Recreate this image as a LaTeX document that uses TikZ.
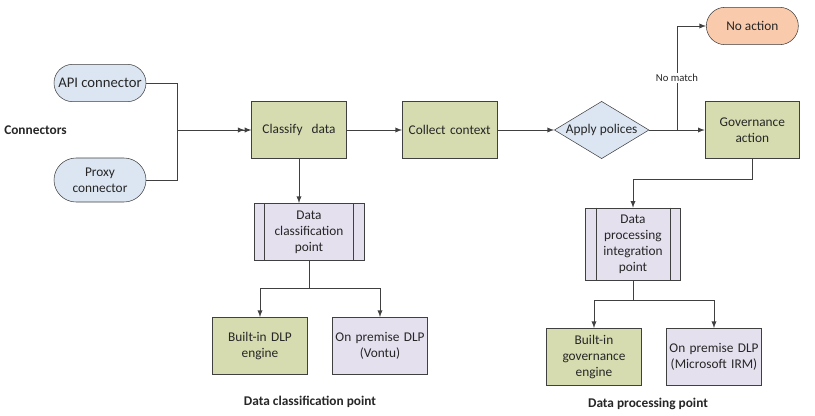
\documentclass[tikz,border=0pt]{standalone}
\usepackage{fontspec}
\setmainfont{Carlito}
\usetikzlibrary{shapes,arrows,positioning,calc}

\definecolor{boxgreen}{RGB}{214,220,176}
\definecolor{boxblue}{RGB}{219,230,242}
\definecolor{boxlilac}{RGB}{229,224,238}
\definecolor{boxpeach}{RGB}{249,203,172}
\definecolor{linegray}{RGB}{64,64,64}

\begin{document}
\begin{tikzpicture}[x=0.75pt, y=-0.75pt, >=latex, node distance=113pt,
        font=\fontsize{10}{12}\selectfont, text=black!85,
        stepbox/.style={draw=linegray, fill=boxgreen, minimum width=71pt, minimum height=43pt, text width=69pt, align=center, inner sep=1pt},
        procbox/.style={draw=linegray, fill=boxlilac, minimum width=71pt, minimum height=43pt, text width=69pt, align=center, inner sep=1pt},
        endbox/.style={rounded rectangle, draw=linegray, fill=boxblue, minimum width=71pt, minimum height=28pt, align=center, inner sep=1pt},
        decision/.style={diamond, aspect=1.65, draw=linegray, fill=boxblue, minimum width=71pt, minimum height=43pt, inner sep=0pt},
        caption/.style={font=\fontsize{10}{12}\selectfont\bfseries},
        link/.style={draw=linegray, line width=0.75pt}]
        \useasboundingbox (0,0) rectangle (815,415);

        % Connectors
        \node[endbox, font=\fontsize{11}{13}\selectfont] (api) at (100,83) {API connector};
        \node[endbox, minimum height=33pt] (proxy) at (100,180) {Proxy\\connector};
        \node[caption, anchor=west, inner sep=0pt] (conn) at (4,130) {Connectors};

        % Main row
        \node[stepbox] (classify) at (299,130) {Classify\ \ data};
        \node[stepbox, right of=classify] (collect) {Collect context};
        \node[decision, right of=collect, node distance=114pt] (apply) {Apply polices};
        \node[stepbox, right of=apply] (govern) {Governance\\action};
        \node[endbox, fill=boxpeach, above of=govern, node distance=78pt] (noaction) {No action};

        % Classification side
        \node[procbox, minimum width=82.5pt] (dcp) at (309,232) {Data\\classification\\point};
        \node[stepbox] (dlp) at (260,346) {Built-in DLP\\engine};
        \node[procbox, right of=dlp, node distance=90pt] (vontu) {On premise DLP\\(Vontu)};
        \node[caption] (dcplabel) at (310,402) {Data classification point};

        % Processing side
        \node[procbox, minimum height=54pt] (dpip) at (633,244) {Data\\processing\\integration\\point};
        \node[stepbox] (goveng) at (594,357) {Built-in\\governance\\engine};
        \node[procbox, right of=goveng, node distance=90pt] (irm) {On premise DLP\\(Microsoft IRM)};
        \node[caption] (dpplabel) at (648,404) {Data processing point};

        % side bars of the process boxes
        \foreach \n in {dcp,dpip} {
            \draw[draw=linegray] ([xshift=8pt]\n.north west) -- ([xshift=8pt]\n.south west);
            \draw[draw=linegray] ([xshift=-8pt]\n.north east) -- ([xshift=-8pt]\n.south east);
        }

        % Edges
        \coordinate (join) at (177,130);
        \draw[link] (api.east) -| (join);
        \draw[link] (proxy.east) -| (join);
        \draw[link, ->>] (join) -- (classify.west);
        \draw[link, ->] (classify) -- (collect);
        \draw[link, ->] (collect) -- (apply);

        \coordinate (split) at (677,130);
        \draw[link] (apply.east) -- (split);
        \draw[link, ->] (split) -- (govern.west);
        \draw[link, ->] (split) |- node[pos=0.25, fill=white, inner sep=1pt, font=\fontsize{8}{9}\selectfont] {No match} (noaction.west);

        \draw[link, ->] (classify.south) -- (classify.south |- dcp.north);
        \coordinate (dcpfork) at (309,288);
        \draw[link] (dcp.south) -- (dcpfork);
        \draw[link, ->] (dcpfork) -| (dlp.north);
        \draw[link, ->] (dcpfork) -| (vontu.north);

        \draw[link, ->] (govern.south) -- ++(0,21) -| (dpip.north);
        \coordinate (dpipfork) at (633,300);
        \draw[link] (dpip.south) -- (dpipfork);
        \draw[link, ->] (dpipfork) -| (goveng.north);
        \draw[link, ->] (dpipfork) -| (irm.north);
\end{tikzpicture}
\end{document}
